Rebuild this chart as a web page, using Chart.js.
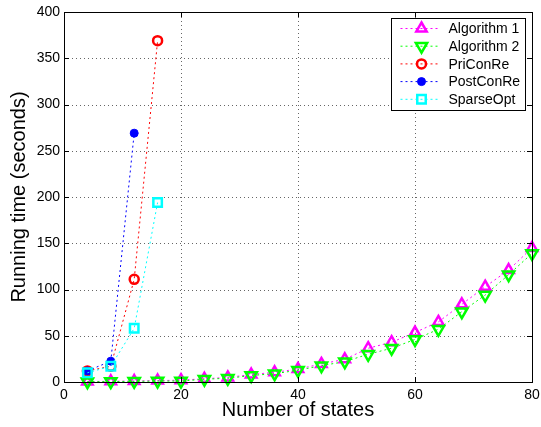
<!DOCTYPE html>
<html>
<head>
<meta charset="utf-8">
<script src="https://cdn.jsdelivr.net/npm/chart.js@4.4.1/dist/chart.umd.min.js"></script>
<style>
  html, body { margin: 0; padding: 0; background: #fff; }
  #wrap { width: 541px; height: 427px; position: relative; }
</style>
</head>
<body>
<div id="wrap"><canvas id="runChart"></canvas></div>
<script>
/* ── data ── */
const states      = [4, 8, 12, 16, 20, 24, 28, 32, 36, 40, 44, 48, 52, 56, 60, 64, 68, 72, 76, 80];
const algorithm1  = [0.5, 0.8, 1.0, 1.5, 2, 3.5, 5, 8, 10.5, 14, 19.5, 24.5, 36.5, 43, 53.5, 65, 84, 103, 121, 145];
const algorithm2  = [0.3, 0.5, 0.7, 1.0, 1, 3, 4, 7, 9, 12.7, 17.7, 22, 30, 36.5, 46, 57, 76, 94, 116, 139];
const priStates   = [4, 8, 12, 16];
const priConRe    = [12, 17, 111, 369];
const postStates  = [4, 8, 12];
const postConRe   = [12, 22.5, 269];
const sparseStates = [4, 8, 12, 16];
const sparseOpt   = [10, 17, 58, 194];

const xTicks = [0, 20, 40, 60, 80];
const yTicks = [0, 50, 100, 150, 200, 250, 300, 350, 400];

const FONT = "'Liberation Sans', Arial, Helvetica, sans-serif";

const pts = (xs, ys) => xs.map((x, i) => ({ x, y: ys[i] }));

/* ── dotted grid under the data ── */
const dottedGrid = {
  id: 'dottedGrid',
  beforeDatasetsDraw(chart) {
    const { ctx, chartArea: a, scales } = chart;
    ctx.save();
    ctx.strokeStyle = 'rgba(0,0,0,0.6)';
    ctx.lineWidth = 1;
    ctx.setLineDash([1, 3]);
    ctx.beginPath();
    xTicks.slice(1, -1).forEach(v => {
      const px = Math.round(scales.x.getPixelForValue(v)) + 0.5;
      ctx.moveTo(px, a.bottom); ctx.lineTo(px, a.top);
    });
    yTicks.slice(1, -1).forEach(v => {
      const py = Math.round(scales.y.getPixelForValue(v)) + 0.5;
      ctx.moveTo(a.left, py); ctx.lineTo(a.right, py);
    });
    ctx.stroke();
    ctx.restore();
  }
};

/* ── box, inward ticks and the in-plot legend ── */
const matlabFrame = {
  id: 'matlabFrame',
  afterDraw(chart) {
    const { ctx, chartArea: a, scales } = chart;
    ctx.save();
    ctx.strokeStyle = '#000';
    ctx.lineWidth = 1;
    ctx.setLineDash([]);
    ctx.strokeRect(Math.round(a.left) + 0.5, Math.round(a.top) + 0.5,
                   Math.round(a.right - a.left), Math.round(a.bottom - a.top));
    const tl = 5;
    ctx.beginPath();
    xTicks.forEach(v => {
      const px = Math.round(scales.x.getPixelForValue(v)) + 0.5;
      ctx.moveTo(px, a.bottom); ctx.lineTo(px, a.bottom - tl);
      ctx.moveTo(px, a.top);    ctx.lineTo(px, a.top + tl);
    });
    yTicks.forEach(v => {
      const py = Math.round(scales.y.getPixelForValue(v)) + 0.5;
      ctx.moveTo(a.left, py);  ctx.lineTo(a.left + tl, py);
      ctx.moveTo(a.right, py); ctx.lineTo(a.right - tl, py);
    });
    ctx.stroke();

    // legend box (top right, inside the axes)
    const bx = Math.round(a.right - 141) + 0.5, by = Math.round(a.top + 6) + 0.5;
    const bw = 134, bh = 92, rowH = 17.7;
    ctx.fillStyle = '#fff';
    ctx.fillRect(bx, by, bw, bh);
    ctx.strokeRect(bx, by, bw, bh);
    ctx.font = '14px ' + FONT;
    ctx.textBaseline = 'middle';
    ctx.textAlign = 'left';
    chart.data.datasets.forEach((ds, i) => {
      const cy = by + 10 + i * rowH;
      ctx.save();
      ctx.strokeStyle = ds.borderColor;
      ctx.lineWidth = 1;
      ctx.setLineDash([2, 3]);
      ctx.beginPath();
      ctx.moveTo(bx + 9, cy); ctx.lineTo(bx + 49, cy);
      ctx.stroke();
      ctx.restore();
      ctx.save();
      ctx.setLineDash([]);
      ctx.strokeStyle = ds.pointBorderColor;
      ctx.fillStyle = ds.pointBackgroundColor;
      ctx.lineWidth = ds.pointBorderWidth;
      Chart.helpers.drawPoint(ctx, {
        pointStyle: ds.pointStyle,
        rotation: ds.pointRotation || 0,
        radius: ds.pointRadius,
        borderWidth: ds.pointBorderWidth
      }, bx + 30, cy);
      ctx.restore();
      ctx.fillStyle = '#000';
      ctx.fillText(ds.label, bx + 57, cy + 1);
    });
    ctx.restore();
  }
};

const series = (label, data, color, style, extra) => Object.assign({
  label,
  data,
  borderColor: color,
  backgroundColor: color,
  borderWidth: 1,
  borderDash: [2, 3],
  pointStyle: style,
  pointBorderColor: color,
  pointBackgroundColor: 'rgba(255,255,255,0)',
  pointBorderWidth: 2.5,
  pointRadius: 6,
  pointHoverRadius: 6,
  tension: 0,
  clip: false
}, extra);

new Chart(document.getElementById('runChart'), {
  type: 'line',
  data: {
    datasets: [
      series('Algorithm 1', pts(states, algorithm1), '#ff00ff', 'triangle', { order: 5 }),
      series('Algorithm 2', pts(states, algorithm2), '#00ff00', 'triangle', { order: 4, pointRotation: 180, pointRadius: 6.5 }),
      series('PriConRe', pts(priStates, priConRe), '#ff0000', 'circle', { order: 3, pointRadius: 4.5 }),
      series('PostConRe', pts(postStates, postConRe), '#0000ff', 'circle',
             { order: 2, pointRadius: 4, pointBorderWidth: 1, pointBackgroundColor: '#0000ff' }),
      series('SparseOpt', pts(sparseStates, sparseOpt), '#00ffff', 'rect', { order: 1, pointRadius: 6 })
    ]
  },
  options: {
    responsive: true,
    maintainAspectRatio: false,
    animation: false,
    layout: { padding: { top: 12, right: 7, left: 0, bottom: 0 } },
    plugins: { legend: { display: false }, tooltip: { enabled: false } },
    scales: {
      x: {
        type: 'linear',
        min: 0, max: 80,
        afterBuildTicks: s => { s.ticks = xTicks.map(v => ({ value: v })); },
        afterFit: s => { s.height = 45; s.paddingLeft = 0; s.paddingRight = 0; },
        grid: { display: false, drawTicks: false },
        border: { display: false },
        ticks: { color: '#000', padding: 5, font: { family: FONT, size: 14 }, maxRotation: 0 },
        title: {
          display: true, text: 'Number of states', color: '#000',
          font: { family: FONT, size: 20 }, padding: { top: 0, bottom: 5 }
        }
      },
      y: {
        min: 0, max: 400,
        afterBuildTicks: s => { s.ticks = yTicks.map(v => ({ value: v })); },
        afterFit: s => { s.width = 64; s.paddingTop = 0; s.paddingBottom = 0; },
        grid: { display: false, drawTicks: false },
        border: { display: false },
        ticks: { color: '#000', padding: 4, font: { family: FONT, size: 14 } },
        title: {
          display: true, text: 'Running time (seconds)', color: '#000',
          font: { family: FONT, size: 20 }, padding: { top: 7, bottom: 0 }
        }
      }
    }
  },
  plugins: [dottedGrid, matlabFrame]
});
</script>
</body>
</html>
